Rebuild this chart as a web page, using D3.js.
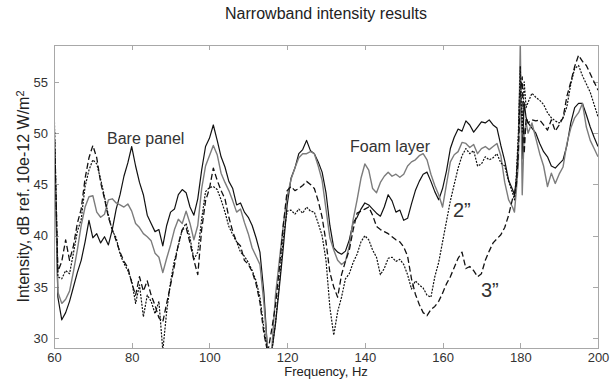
<!DOCTYPE html>
<html>
<head>
  <meta charset="utf-8">
  <title>Narrowband intensity results</title>
  <script src="https://d3js.org/d3.v7.min.js"></script>
  <style>
    body {
      margin: 0;
      background: #fff;
      font-family: "Liberation Sans", Arial, Helvetica, sans-serif;
    }
    .box {
      fill: none;
      stroke: #a8a8a8;
      shape-rendering: crispEdges;
    }
    .tick line {
      stroke: #a8a8a8;
      shape-rendering: crispEdges;
    }
    .tick text {
      fill: #333;
      font-size: 13px;
    }
    .series {
      fill: none;
      stroke-linejoin: round;
    }
    .note {
      fill: #333;
      font-size: 16px;
    }
  </style>
</head>
<body>
<script>

// frequency grid (Hz), finer around the 180 Hz spike
var freq = d3.range(60, 178).concat([178, 178.5, 179, 179.5, 180, 180.5, 181, 181.5, 182], d3.range(183, 201));

var barePanel = [
  51.5,34.0,31.8,32.5,33.6,35.0,36.4,37.6,39.4,41.5,
  39.8,40.2,39.3,39.9,39.1,40.6,42.6,44.0,45.8,47.1,
  48.7,46.8,45.2,44.0,42.0,41.2,40.4,40.6,39.0,41.0,
  42.3,42.6,44.0,44.5,44.2,42.8,42.0,43.6,46.4,48.7,
  49.5,50.8,49.3,47.7,46.7,45.3,44.6,43.0,43.2,42.3,
  41.8,41.0,39.8,38.4,34.5,28.6,28.6,31.4,35.0,38.8,
  43.0,45.6,46.6,48.0,48.4,49.3,48.3,48.0,47.2,46.2,
  44.2,41.0,38.8,38.4,38.2,38.5,39.6,41.3,41.8,42.6,
  43.2,43.0,42.6,42.2,41.9,42.8,44.0,43.4,42.3,42.5,
  41.5,41.7,43.1,44.4,45.3,46.0,46.2,45.3,44.3,43.5,
  44.6,46.3,48.5,49.6,50.4,50.2,51.2,50.8,50.1,50.6,
  51.1,51.0,51.3,50.8,50.5,48.8,47.3,45.4,
  44.5,44.0,45.5,49.0,56.0,47.5,53.0,51.5,51.0,
  50.5,50.0,49.0,48.2,47.7,46.8,46.6,47.0,47.4,48.8,51.0,52.5,52.9,52.9,51.8,50.6,49.6,48.7
];

var foamLayer = [
  49.5,34.5,33.4,33.8,34.6,36.5,38.6,41.0,42.8,43.8,
  43.9,42.3,41.8,42.1,43.5,43.6,43.2,43.0,42.8,43.1,
  42.4,41.2,40.8,40.2,39.9,39.5,38.3,37.9,36.4,37.8,
  39.1,40.6,41.6,41.2,42.4,41.2,39.6,41.0,44.6,46.8,
  47.8,48.8,47.9,46.1,45.2,44.4,43.4,42.3,42.6,41.3,
  40.2,38.8,38.0,37.2,33.5,28.6,28.7,34.2,37.6,41.0,
  43.8,45.5,46.6,47.6,48.0,48.0,48.2,48.0,46.8,45.4,
  42.6,39.8,38.6,37.6,37.2,37.5,39.0,41.6,43.5,45.6,
  47.0,46.4,44.6,44.2,45.2,45.8,46.2,45.8,46.0,45.7,
  46.0,46.8,47.2,47.4,47.8,48.0,47.4,46.0,44.9,44.0,
  42.8,45.0,47.2,47.9,48.2,49.1,49.0,48.6,48.9,48.0,
  48.5,48.7,48.4,48.7,49.0,47.8,45.2,43.5,
  42.8,42.3,44.5,47.0,58.8,44.0,50.0,51.0,50.0,
  51.0,49.5,48.0,46.8,44.8,46.1,45.1,46.0,46.7,49.0,50.5,51.5,52.0,52.9,50.6,49.3,48.5,47.7
];

var twoInch = [
  53.0,36.0,35.8,36.6,36.3,38.3,40.4,41.6,44.8,46.4,
  47.4,47.0,45.5,43.8,42.0,40.5,39.8,38.2,37.3,36.6,
  35.6,33.4,35.2,32.1,34.2,33.6,32.4,33.6,28.8,32.6,
  35.5,37.6,39.0,40.6,41.2,39.8,37.7,38.4,41.6,44.3,
  44.7,44.8,44.5,43.5,42.3,40.9,40.1,39.4,38.4,38.0,
  37.4,36.6,35.6,34.0,31.0,28.6,28.6,31.5,35.4,39.8,
  42.4,42.5,42.1,42.6,42.2,42.8,42.4,42.3,41.2,40.0,
  37.6,33.0,30.3,32.6,34.0,35.8,36.3,37.4,38.2,39.4,
  40.0,39.6,38.6,37.9,36.2,36.8,37.8,37.9,37.5,37.7,
  37.2,36.2,34.8,35.6,35.2,34.9,34.2,34.0,36.0,37.4,
  39.4,41.4,43.4,45.0,46.6,47.8,48.5,48.0,48.3,46.8,
  47.0,47.7,47.4,47.6,48.0,47.1,46.8,45.3,
  44.2,43.5,46.0,50.0,56.5,50.0,55.0,52.5,53.0,
  53.9,53.5,53.2,52.8,52.0,51.5,51.2,51.0,51.5,52.6,54.8,56.3,56.6,55.6,54.8,54.0,52.8,51.6
];

var threeInch = [
  52.0,36.5,37.5,39.6,37.6,39.0,41.2,42.6,45.6,47.6,
  48.8,47.6,45.2,43.6,41.8,40.6,39.5,38.4,37.5,36.9,
  35.4,34.2,36.0,34.6,35.6,34.2,33.2,32.0,31.6,33.4,
  35.2,37.1,39.2,40.6,40.8,39.3,37.6,36.2,40.6,43.4,
  44.6,46.6,45.4,44.4,43.6,41.8,40.4,39.4,39.0,37.6,
  37.2,36.5,35.3,33.5,30.5,28.6,30.8,33.2,36.8,41.0,
  44.4,44.8,44.4,44.6,44.9,45.3,45.0,44.6,43.4,41.8,
  39.4,36.4,35.0,34.0,36.2,37.5,38.6,40.6,42.2,42.4,
  42.6,42.8,42.0,40.9,40.6,40.4,40.2,39.9,39.6,39.4,
  38.9,38.0,35.8,34.3,33.3,32.5,32.2,32.8,33.1,33.6,
  34.4,35.3,36.0,36.9,37.8,38.4,36.8,37.0,36.6,36.0,
  36.3,37.6,38.5,39.3,39.7,40.1,40.8,42.0,
  43.6,44.0,45.0,48.0,54.0,55.5,48.0,51.5,51.0,
  51.3,51.2,51.3,50.8,50.3,51.3,50.2,50.8,51.5,53.6,55.0,56.5,57.6,57.0,56.6,55.8,55.0,54.2
];

var xTicks = [60, 80, 100, 120, 140, 160, 180, 200];
var yTicks = [30, 35, 40, 45, 50, 55];

var seriesList = [
  {name: "Bare panel", values: barePanel, color: "#111", width: 1.2, dash: null},
  {name: "Foam layer", values: foamLayer, color: "#7c7c7c", width: 1.4, dash: null},
  {name: "2\u201d", values: twoInch, color: "#111", width: 1.2, dash: "2,1.3"},
  {name: "3\u201d", values: threeInch, color: "#111", width: 1.3, dash: "6,3"}
];

var W = 613, H = 381;
var margin = {top: 45, right: 15, bottom: 33, left: 54};
var width = W - margin.left - margin.right,
    height = H - margin.top - margin.bottom;

var x = d3.scaleLinear().domain([60, 200]).range([0, width]);
var y = d3.scaleLinear().domain([29.05, 58.6]).range([height, 0]);

var svg = d3.select("body").append("svg")
    .attr("width", W)
    .attr("height", H);

svg.append("text")
    .attr("x", margin.left + width / 2)
    .attr("y", 19)
    .attr("text-anchor", "middle")
    .style("font-size", "16px")
    .style("fill", "#222")
    .text("Narrowband intensity results");

var g = svg.append("g")
    .attr("transform", "translate(" + margin.left + "," + margin.top + ")");

g.append("clipPath")
    .attr("id", "plotclip")
  .append("rect")
    .attr("width", width)
    .attr("height", height);

// axes, ticks pointing inwards on all four sides
g.append("g")
    .attr("transform", "translate(0," + height + ")")
    .call(d3.axisBottom(x).tickValues(xTicks).tickSize(-5).tickPadding(5))
    .call(function(a) { a.select(".domain").remove(); });

g.append("g")
    .call(d3.axisTop(x).tickValues(xTicks).tickSize(-5).tickFormat(""))
    .call(function(a) { a.select(".domain").remove(); });

g.append("g")
    .call(d3.axisLeft(y).tickValues(yTicks).tickSize(-5).tickPadding(6))
    .call(function(a) { a.select(".domain").remove(); });

g.append("g")
    .attr("transform", "translate(" + width + ",0)")
    .call(d3.axisRight(y).tickValues(yTicks).tickSize(-5).tickFormat(""))
    .call(function(a) { a.select(".domain").remove(); });

g.selectAll(".tick text")
    .attr("font-family", null)
    .attr("font-size", null);

var line = d3.line()
    .x(function(d, i) { return x(freq[i]); })
    .y(function(d) { return y(d); });

g.append("g")
    .attr("clip-path", "url(#plotclip)")
  .selectAll("path")
    .data(seriesList)
  .enter().append("path")
    .attr("class", "series")
    .attr("d", function(s) { return line(s.values); })
    .attr("stroke", function(s) { return s.color; })
    .attr("stroke-width", function(s) { return s.width; })
    .attr("stroke-dasharray", function(s) { return s.dash; });

g.append("rect")
    .attr("class", "box")
    .attr("width", width)
    .attr("height", height);

// labels next to the curves
svg.append("text").attr("class", "note")
    .attr("x", 107).attr("y", 144)
    .text(seriesList[0].name);
svg.append("text").attr("class", "note")
    .attr("x", 350).attr("y", 152)
    .text(seriesList[1].name);
svg.append("text").attr("class", "note")
    .attr("x", 453).attr("y", 217)
    .style("font-size", "20px")
    .text(seriesList[2].name);
svg.append("text").attr("class", "note")
    .attr("x", 481).attr("y", 297)
    .style("font-size", "20px")
    .text(seriesList[3].name);

// axis titles
svg.append("text")
    .attr("x", margin.left + width / 2)
    .attr("y", 376)
    .attr("text-anchor", "middle")
    .style("font-size", "13px")
    .style("fill", "#222")
    .text("Frequency, Hz");

var ylab = svg.append("text")
    .attr("transform", "translate(29," + (margin.top + height / 2) + ") rotate(-90)")
    .attr("text-anchor", "middle")
    .style("font-size", "16px")
    .style("fill", "#222");
ylab.append("tspan").text("Intensity, dB ref. 10e-12 W/m");
ylab.append("tspan").attr("dy", "-0.45em").style("font-size", "11px").text("2");

</script>
</body>
</html>
